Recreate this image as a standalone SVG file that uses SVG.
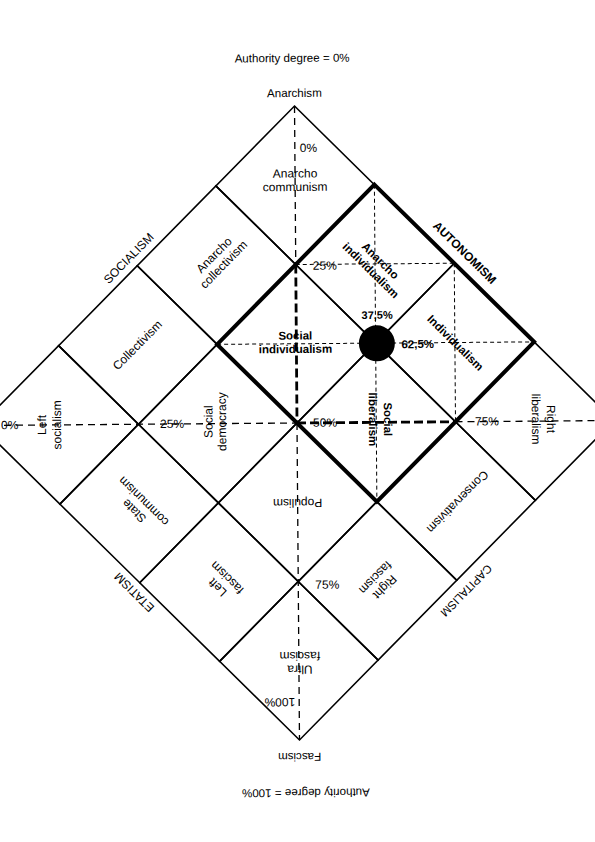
<svg xmlns="http://www.w3.org/2000/svg" width="595" height="842" viewBox="0 0 595 842">
<style>
.cell{fill:none;stroke:#000;stroke-width:1.6;stroke-linejoin:miter}
.thick{fill:none;stroke:#000;stroke-width:4;stroke-linejoin:miter}
.axis{stroke:#000;stroke-width:1.3;stroke-dasharray:7 5;fill:none}
.axisb{stroke:#000;stroke-width:2.8;stroke-dasharray:9 4;fill:none}
.fine{stroke:#000;stroke-width:1;stroke-dasharray:4 3;fill:none}
text{font-family:"Liberation Sans",Arial,sans-serif;font-size:12px;fill:#000}
.b{font-weight:bold;font-size:11.5px}
.t{font-size:11.6px}
</style>
<rect width="595" height="842" fill="#fff"/>
<g transform="rotate(-0.45 297 423)">
<g id="titles">
<text class="t" x="295" y="62" text-anchor="middle">Authority degree = 0%</text>
<text class="t" x="297" y="97" text-anchor="middle">Anarchism</text>
<text class="t" transform="translate(297,757) rotate(180)" y="4" text-anchor="middle">Fascism</text>
<text class="t" transform="translate(303,793) rotate(180)" y="4" text-anchor="middle">Authority degree = 100%</text>
</g>
<g id="anarcho-communism"><polygon class="cell" points="297,106 376.25,185.25 297,264.5 217.75,185.25"/>
<text transform="translate(297,180)" text-anchor="middle"><tspan x="0" y="-2.5">Anarcho</tspan><tspan x="0" y="11">communism</tspan></text></g>
<g id="anarcho-individualism"><polygon class="cell" points="376.25,185.25 455.5,264.5 376.25,343.75 297,264.5"/>
<text class="b" transform="translate(377,266) rotate(45)" text-anchor="middle"><tspan x="0" y="-2.5">Anarcho</tspan><tspan x="0" y="11">individualism</tspan></text></g>
<g id="anarcho-collectivism"><polygon class="cell" points="217.75,185.25 297,264.5 217.75,343.75 138.5,264.5"/>
<text transform="translate(220,259) rotate(-45)" text-anchor="middle"><tspan x="0" y="-2.5">Anarcho</tspan><tspan x="0" y="11">collectivism</tspan></text></g>
<g id="individualism"><polygon class="cell" points="455.5,264.5 534.75,343.75 455.5,423 376.25,343.75"/>
<text class="b" transform="translate(456,344) rotate(45)" text-anchor="middle" y="4">Individualism</text></g>
<g id="social-individualism"><polygon class="cell" points="297,264.5 376.25,343.75 297,423 217.75,343.75"/>
<text class="b" transform="translate(296,342)" text-anchor="middle"><tspan x="0" y="-2.5">Social</tspan><tspan x="0" y="11">individualism</tspan></text></g>
<g id="collectivism"><polygon class="cell" points="138.5,264.5 217.75,343.75 138.5,423 59.25,343.75"/>
<text transform="translate(138,344) rotate(-45)" text-anchor="middle" y="4">Collectivism</text></g>
<g id="right-liberalism"><polygon class="cell" points="534.75,343.75 614,423 534.75,502.25 455.5,423"/>
<text transform="translate(544,421) rotate(90)" text-anchor="middle"><tspan x="0" y="-3">Right</tspan><tspan x="0" y="12">liberalism</tspan></text></g>
<g id="social-liberalism"><polygon class="cell" points="376.25,343.75 455.5,423 376.25,502.25 297,423"/>
<text class="b" transform="translate(381,420) rotate(90)" text-anchor="middle"><tspan x="0" y="-3">Social</tspan><tspan x="0" y="12">liberalism</tspan></text></g>
<g id="social-democracy"><polygon class="cell" points="217.75,343.75 297,423 217.75,502.25 138.5,423"/>
<text transform="translate(215,421) rotate(-90)" text-anchor="middle"><tspan x="0" y="-2.5">Social</tspan><tspan x="0" y="11">democracy</tspan></text></g>
<g id="left-socialism"><polygon class="cell" points="59.25,343.75 138.5,423 59.25,502.25 -20,423"/>
<text transform="translate(49,423) rotate(-90)" text-anchor="middle"><tspan x="0" y="-3">Left</tspan><tspan x="0" y="12">socialism</tspan></text></g>
<g id="conservativism"><polygon class="cell" points="455.5,423 534.75,502.25 455.5,581.5 376.25,502.25"/>
<text transform="translate(457,503) rotate(135)" text-anchor="middle" y="4">Conservativism</text></g>
<g id="populism"><polygon class="cell" points="297,423 376.25,502.25 297,581.5 217.75,502.25"/>
<text transform="translate(297,503) rotate(180)" text-anchor="middle" y="4">Populism</text></g>
<g id="state-communism"><polygon class="cell" points="138.5,423 217.75,502.25 138.5,581.5 59.25,502.25"/>
<text transform="translate(138,505) rotate(-135)" text-anchor="middle"><tspan x="0" y="-2.5">State</tspan><tspan x="0" y="11">communism</tspan></text></g>
<g id="right-fascism"><polygon class="cell" points="376.25,502.25 455.5,581.5 376.25,660.75 297,581.5"/>
<text transform="translate(379,583) rotate(135)" text-anchor="middle"><tspan x="0" y="-2.5">Right</tspan><tspan x="0" y="11">fascism</tspan></text></g>
<g id="left-fascism"><polygon class="cell" points="217.75,502.25 297,581.5 217.75,660.75 138.5,581.5"/>
<text transform="translate(221,582) rotate(-135)" text-anchor="middle"><tspan x="0" y="-2.5">Left</tspan><tspan x="0" y="11">fascism</tspan></text></g>
<g id="ultra-fascism"><polygon class="cell" points="297,581.5 376.25,660.75 297,740 217.75,660.75"/>
<text transform="translate(298,663) rotate(180)" text-anchor="middle"><tspan x="0" y="-2.5">Ultra</tspan><tspan x="0" y="11">fascism</tspan></text></g>
<g id="connectors">
<polygon class="thick" points="376.25,185.25 534.75,343.75 376.25,502.25 217.75,343.75"/>
<line class="axis" x1="297" y1="106" x2="297" y2="264.5"/>
<line class="axisb" x1="297" y1="264.5" x2="297" y2="423"/>
<line class="axis" x1="297" y1="423" x2="297" y2="740"/>
<line class="axis" x1="-20" y1="423" x2="297" y2="423"/>
<line class="axisb" x1="297" y1="423" x2="455.5" y2="423"/>
<line class="axis" x1="455.5" y1="423" x2="614" y2="423"/>
<line class="fine" x1="297" y1="264.5" x2="455.5" y2="264.5"/>
<line class="fine" x1="217.75" y1="343.75" x2="534.75" y2="343.75"/>
<line class="fine" x1="376.25" y1="185.25" x2="376.25" y2="502.25"/>
<line class="fine" x1="455.5" y1="264.5" x2="455.5" y2="423"/>
</g>
<g id="scale-labels">
<text x="302" y="152">0%</text>
<text x="314" y="270">25%</text>
<text x="1" y="427">0%</text>
<text x="160" y="427">25%</text>
<text x="313" y="427">50%</text>
<text x="475" y="427">75%</text>
<text x="314" y="589">75%</text>
<text transform="translate(297,702) rotate(180)" x="4" y="4">100%</text>
</g>
<g id="edges">
<text transform="translate(130,257) rotate(-45)" text-anchor="middle" y="4">SOCIALISM</text>
<text class="b" style="font-size:12px" transform="translate(466,254) rotate(45)" text-anchor="middle" y="4">AUTONOMISM</text>
<text transform="translate(133,591) rotate(-135)" text-anchor="middle" y="4">ETATISM</text>
<text style="font-size:11.5px" transform="translate(465,592) rotate(135)" text-anchor="middle" y="4">CAPITALISM</text>
</g>
<g id="position">
<circle cx="377.5" cy="344" r="18" fill="#000"/>
<text class="b" x="378" y="319.5" text-anchor="middle" style="font-size:11px">37,5%</text>
<text class="b" x="402" y="349">62,5%</text>
</g>
</g>
</svg>
